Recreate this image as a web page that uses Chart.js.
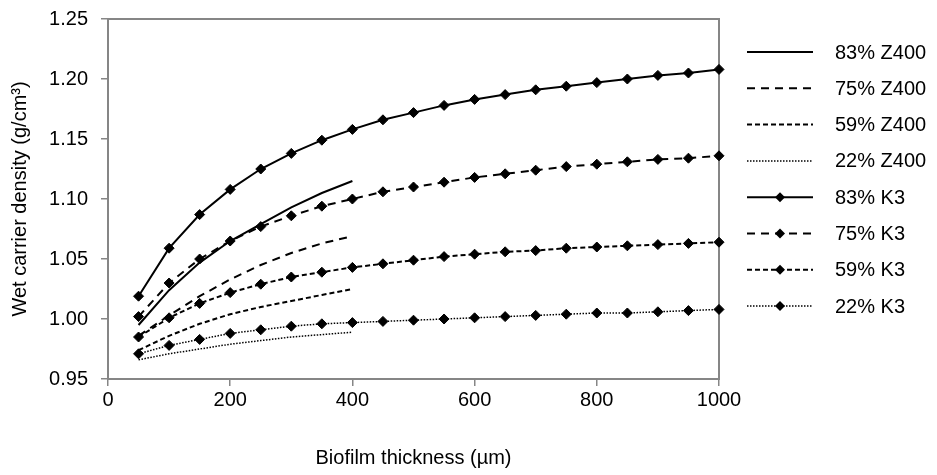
<!DOCTYPE html>
<html>
<head>
<meta charset="utf-8">
<script src="https://cdn.jsdelivr.net/npm/chart.js@4.4.1/dist/chart.umd.min.js"></script>
<style>
  html, body { margin: 0; padding: 0; background: #fff; }
  #wrap { width: 937px; height: 475px; }
</style>
</head>
<body>
<div id="wrap"><canvas id="chart" width="937" height="475"></canvas></div>
<script>
// Data
const thicknessK3 = [50, 100, 150, 200, 250, 300, 350, 400, 450, 500, 550, 600, 650, 700, 750, 800, 850, 900, 950, 1000];
const thicknessZ400 = [50, 100, 150, 200, 250, 300, 350, 400];

const z400_83 = [0.995, 1.024, 1.047, 1.065, 1.079, 1.093, 1.105, 1.115];
const z400_75 = [0.986, 1.003, 1.019, 1.033, 1.045, 1.055, 1.063, 1.069];
const z400_59 = [0.974, 0.986, 0.996, 1.004, 1.010, 1.015, 1.020, 1.025];
const z400_22 = [0.966, 0.971, 0.975, 0.979, 0.982, 0.985, 0.987, 0.989];

const k3_83 = [1.019, 1.059, 1.087, 1.108, 1.125, 1.138, 1.149, 1.158, 1.166, 1.172, 1.178, 1.183, 1.187, 1.191, 1.194, 1.197, 1.200, 1.203, 1.205, 1.208];
const k3_75 = [1.002, 1.030, 1.050, 1.065, 1.077, 1.086, 1.094, 1.100, 1.106, 1.110, 1.114, 1.118, 1.121, 1.124, 1.127, 1.129, 1.131, 1.133, 1.134, 1.136];
const k3_59 = [0.985, 1.001, 1.013, 1.022, 1.029, 1.035, 1.039, 1.043, 1.046, 1.049, 1.052, 1.054, 1.056, 1.057, 1.059, 1.060, 1.061, 1.062, 1.063, 1.064];
const k3_22 = [0.971, 0.978, 0.983, 0.988, 0.991, 0.994, 0.996, 0.997, 0.998, 0.999, 1.000, 1.001, 1.002, 1.003, 1.004, 1.005, 1.005, 1.006, 1.007, 1.008];

const xTicks = [0, 200, 400, 600, 800, 1000];
const yTicks = [0.95, 1.00, 1.05, 1.10, 1.15, 1.20, 1.25];

const FONT = '"Liberation Sans", Arial, sans-serif';
const AXIS_GREY = "#868686";

const toPoints = (xs, ys) => xs.map((x, i) => ({ x: x, y: ys[i] }));

const lineSet = (label, xs, ys, dash, width, markers) => ({
  label: label,
  data: toPoints(xs, ys),
  borderColor: "#000",
  backgroundColor: "#000",
  borderWidth: width,
  borderDash: dash,
  pointStyle: "rectRot",
  pointRadius: markers ? 5 : 0,
  pointBackgroundColor: "#000",
  pointBorderColor: "#000",
  pointBorderWidth: 1,
  tension: 0,
  clip: false,
});

// plot frame (top + right edges in grey)
const framePlugin = {
  id: "frame",
  beforeDatasetsDraw(chart) {
    const { ctx, chartArea: a } = chart;
    ctx.save();
    ctx.strokeStyle = AXIS_GREY;
    ctx.lineWidth = 2;
    ctx.strokeRect(a.left, a.top, a.right - a.left, a.bottom - a.top);
    ctx.restore();
  },
};

// legend drawn at the right of the plot
const sideLegend = {
  id: "sideLegend",
  afterDraw(chart) {
    const ctx = chart.ctx;
    ctx.save();
    chart.data.datasets.forEach((ds, i) => {
      const y = 52 + i * 36.3;
      ctx.beginPath();
      ctx.setLineDash(ds.borderDash || []);
      ctx.lineWidth = ds.borderWidth;
      ctx.strokeStyle = ds.borderColor;
      ctx.moveTo(747, y);
      ctx.lineTo(813, y);
      ctx.stroke();
      ctx.setLineDash([]);
      if (ds.pointRadius > 0) {
        const r = ds.pointRadius;
        ctx.beginPath();
        ctx.moveTo(780, y - r);
        ctx.lineTo(780 + r, y);
        ctx.lineTo(780, y + r);
        ctx.lineTo(780 - r, y);
        ctx.closePath();
        ctx.fillStyle = "#000";
        ctx.fill();
      }
      ctx.fillStyle = "#000";
      ctx.font = "20px " + FONT;
      ctx.textBaseline = "middle";
      ctx.fillText(ds.label, 835, y + 1);
    });
    ctx.restore();
  },
};

new Chart(document.getElementById("chart"), {
  type: "line",
  data: {
    datasets: [
      lineSet("83% Z400", thicknessZ400, z400_83, [], 2, false),
      lineSet("75% Z400", thicknessZ400, z400_75, [8, 6], 2, false),
      lineSet("59% Z400", thicknessZ400, z400_59, [5, 3], 2, false),
      lineSet("22% Z400", thicknessZ400, z400_22, [1.5, 1.5], 1.5, false),
      lineSet("83% K3", thicknessK3, k3_83, [], 2, true),
      lineSet("75% K3", thicknessK3, k3_75, [8, 6], 2, true),
      lineSet("59% K3", thicknessK3, k3_59, [5, 3], 2, true),
      lineSet("22% K3", thicknessK3, k3_22, [1.5, 1.5], 1.5, true),
    ],
  },
  options: {
    responsive: false,
    animation: false,
    layout: { padding: { left: 0, right: 218, top: 19, bottom: 0 } },
    plugins: {
      legend: { display: false },
      tooltip: { enabled: false },
    },
    scales: {
      x: {
        type: "linear",
        min: 0,
        max: 1000,
        afterFit: (s) => {
          s.height = 96;
          s.paddingLeft = 0;
          s.paddingRight = 0;
        },
        afterBuildTicks: (s) => { s.ticks = xTicks.map((v) => ({ value: v })); },
        ticks: {
          color: "#000",
          font: { family: FONT, size: 20 },
          padding: 2,
          maxRotation: 0,
          callback: (v) => String(v),
        },
        grid: { drawOnChartArea: false, drawTicks: true, tickLength: 7, color: AXIS_GREY, lineWidth: 1.5 },
        border: { color: AXIS_GREY, width: 2 },
        title: {
          display: true,
          text: "Biofilm thickness (µm)",
          color: "#000",
          font: { family: FONT, size: 20 },
          padding: { top: 0, bottom: 5 },
        },
      },
      y: {
        min: 0.95,
        max: 1.25,
        afterFit: (s) => {
          s.width = 108;
          s.paddingTop = 0;
          s.paddingBottom = 0;
        },
        afterBuildTicks: (s) => { s.ticks = yTicks.map((v) => ({ value: v })); },
        ticks: {
          color: "#000",
          font: { family: FONT, size: 20 },
          padding: 13,
          callback: (v) => Number(v).toFixed(2),
        },
        grid: { drawOnChartArea: false, drawTicks: true, tickLength: 7, color: AXIS_GREY, lineWidth: 1.5 },
        border: { color: AXIS_GREY, width: 2 },
        title: {
          display: true,
          text: "Wet carrier density (g/cm³)",
          color: "#000",
          font: { family: FONT, size: 20 },
          padding: { top: 8, bottom: 0 },
        },
      },
    },
  },
  plugins: [framePlugin, sideLegend],
});
</script>
</body>
</html>
